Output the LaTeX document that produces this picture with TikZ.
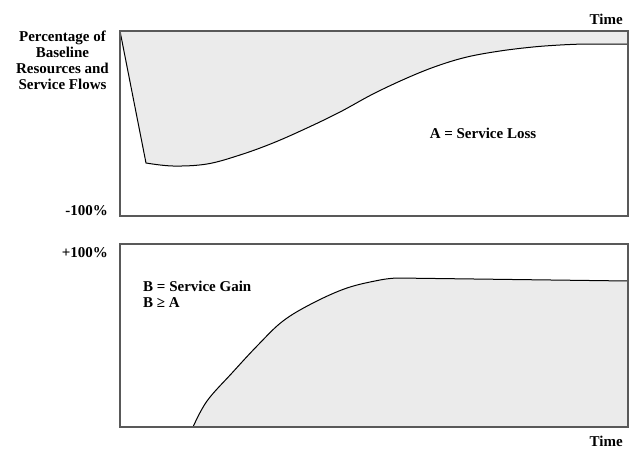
\documentclass[tikz,border=0pt]{standalone}
\usepackage{fontspec}
\setmainfont{Liberation Serif}
\begin{document}
\begin{tikzpicture}[x=1pt,y=-1pt,
  frame/.style={draw=black!65,line width=1.5pt},
  curve/.style={draw=black,line width=1pt},
  area/.style={fill=black!8},
  lbl/.style={font=\bfseries\fontsize{15}{16}\selectfont,inner sep=0pt}]
\useasboundingbox (0,0) rectangle (633,450);
% top panel
\def\topcurve{(146,163) (173,166) (207,164) (240,155) (273,143) (307,128) (340,112) (373,94) (407,78) (437,66) (467,57) (500,51) (533,47) (560,45) (583,44)}
\fill[area] (120,31) -- (146,163) -- plot[smooth,tension=0.6] coordinates {\topcurve} -- (628,44) -- (628,31) -- cycle;
\draw[curve] (120,31) -- (146,163) -- plot[smooth,tension=0.6] coordinates {\topcurve} -- (628,44);
\draw[frame] (120,31) rectangle (628,216);
% bottom panel
\def\botcurve{(193,427) (207,401) (232,373) (258,345) (283,321) (313,303) (347,288) (380,280) (397,278)}
\fill[area] (193,427) -- plot[smooth,tension=0.6] coordinates {\botcurve} -- (628,281) -- (628,427) -- cycle;
\draw[curve] plot[smooth,tension=0.6] coordinates {\botcurve} -- (628,281);
\draw[frame] (120,244) rectangle (628,427);
% labels
\node[lbl,align=center,anchor=north east] (ylab) at (109,31) {Percentage of\\Baseline\\Resources and\\Service Flows};
\node[lbl,anchor=east] (m100) at (108,211) {-100\%};
\node[lbl,anchor=east] (p100) at (108,253) {+100\%};
\node[lbl,anchor=east] (t1) at (623,19) {Time};
\node[lbl,anchor=east] (t2) at (623,441) {Time};
\node[lbl] (a) at (483,133) {A = Service Loss};
\node[lbl,align=left,anchor=north west] (b) at (143,281) {B = Service Gain\\B ≥ A};
\end{tikzpicture}
\end{document}
